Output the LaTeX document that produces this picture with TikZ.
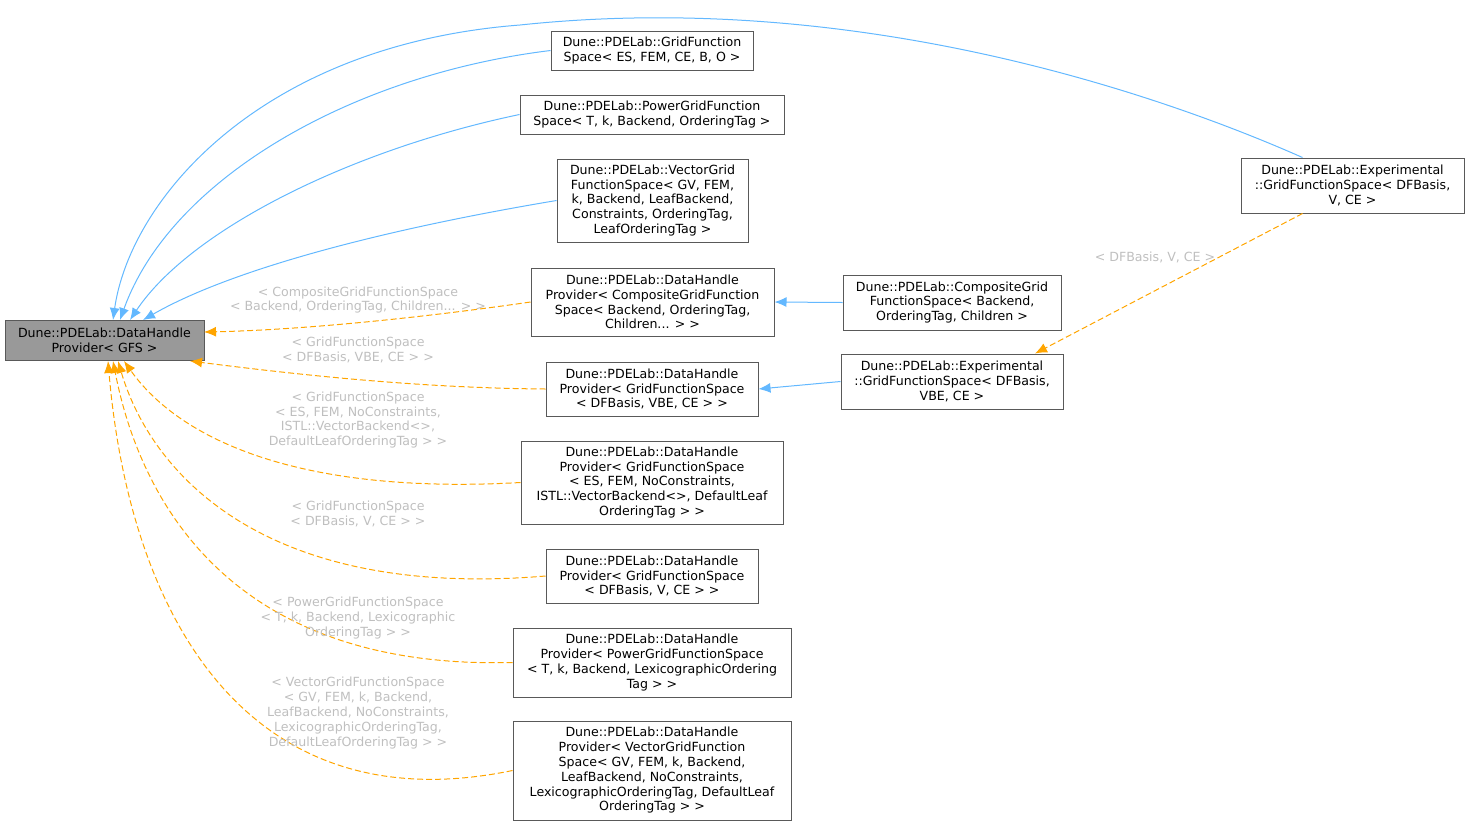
\documentclass[tikz,border=0pt]{standalone}
\usepackage{fontspec}
\setmainfont{DejaVu Sans}
\usetikzlibrary{arrows.meta}
\definecolor{eb}{HTML}{63B8FF}
\definecolor{eo}{HTML}{FFA500}
\definecolor{lb}{HTML}{BFBFBF}
\begin{document}
\begin{tikzpicture}[x=1pt,y=-1pt,line width=1pt,
 box/.style={draw=black!65,fill=white,align=center,inner sep=0pt,font=\fontsize{12.6}{14.8}\selectfont},
 inh/.style={eb,-{Latex[length=12pt,width=10pt]}},
 tmp/.style={eo,dashed,dash pattern=on 6pt off 3pt,-{Latex[length=12pt,width=10pt]}},
 lab/.style={lb,align=center,font=\fontsize{12.6}{14.8}\selectfont}]
\useasboundingbox (0,0) rectangle (1469,825);
\node[box,fill=black!40,minimum width=199pt,minimum height=40pt] (base) at (104.5,340) {Dune::PDELab::DataHandle\\Provider< GFS >};
\node[box,minimum width=202pt,minimum height=39pt] (A) at (652,50.5) {Dune::PDELab::GridFunction\\Space< ES, FEM, CE, B, O >};
\node[box,minimum width=264pt,minimum height=39pt] (B) at (652,114.5) {Dune::PDELab::PowerGridFunction\\Space< T, k, Backend, OrderingTag >};
\node[box,minimum width=191pt,minimum height=83pt] (C) at (652.5,200.5) {Dune::PDELab::VectorGrid\\FunctionSpace< GV, FEM,\\ k, Backend, LeafBackend,\\ Constraints, OrderingTag,\\ LeafOrderingTag >};
\node[box,minimum width=243pt,minimum height=68pt] (D) at (652.5,302) {Dune::PDELab::DataHandle\\Provider< CompositeGridFunction\\Space< Backend, OrderingTag,\\ Children... > >};
\node[box,minimum width=212pt,minimum height=54pt] (E) at (652,389) {Dune::PDELab::DataHandle\\Provider< GridFunctionSpace\\< DFBasis, VBE, CE > >};
\node[box,minimum width=262pt,minimum height=83pt] (F) at (652,482.5) {Dune::PDELab::DataHandle\\Provider< GridFunctionSpace\\< ES, FEM, NoConstraints,\\ ISTL::VectorBackend<>, DefaultLeaf\\OrderingTag > >};
\node[box,minimum width=212pt,minimum height=54pt] (G) at (652,576) {Dune::PDELab::DataHandle\\Provider< GridFunctionSpace\\< DFBasis, V, CE > >};
\node[box,minimum width=278pt,minimum height=69pt] (H) at (652,662.5) {Dune::PDELab::DataHandle\\Provider< PowerGridFunctionSpace\\< T, k, Backend, LexicographicOrdering\\Tag > >};
\node[box,minimum width=278pt,minimum height=99pt] (I) at (652,770.5) {Dune::PDELab::DataHandle\\Provider< VectorGridFunction\\Space< GV, FEM, k, Backend,\\ LeafBackend, NoConstraints,\\ LexicographicOrderingTag, DefaultLeaf\\OrderingTag > >};
\node[box,minimum width=218pt,minimum height=55pt] (J) at (952,302.5) {Dune::PDELab::CompositeGrid\\FunctionSpace< Backend,\\ OrderingTag, Children >};
\node[box,minimum width=222pt,minimum height=55pt] (K) at (952,381.5) {Dune::PDELab::Experimental\\::GridFunctionSpace< DFBasis,\\ VBE, CE >};
\node[box,minimum width=223pt,minimum height=55pt] (L) at (1352.5,185.5) {Dune::PDELab::Experimental\\::GridFunctionSpace< DFBasis,\\ V, CE >};
% inheritance
\draw[inh] ([xshift=-50pt]L.north) .. controls (1150,90) and (850,-10) .. (520,25) .. controls (260,45) and (130,200) .. (113,320);
\draw[inh] (A.west) .. controls (350,75) and (170,180) .. (120,320);
\draw[inh] (B.west) .. controls (350,150) and (190,230) .. (130,320);
\draw[inh] (C.west) .. controls (380,230) and (230,270) .. (143,320);
\draw[inh] (J.west) -- (D.east);
\draw[inh] (K.west) -- (E.east);
% templates
\draw[tmp] ([xshift=-50pt]L.south) -- ([xshift=83pt]K.north);
\node[lab] (lL) at (1155,257) {< DFBasis, V, CE >};
\draw[tmp] (D.west) .. controls (420,318) and (300,330) .. (204,332);
\node[lab] (lD) at (358,300) {< CompositeGridFunctionSpace\\< Backend, OrderingTag, Children... > >};
\draw[tmp] (E.west) .. controls (420,388) and (300,375) .. (190,361);
\node[lab] (lE) at (358,350) {< GridFunctionSpace\\< DFBasis, VBE, CE > >};
\draw[tmp] (F.west) .. controls (300,495) and (180,440) .. (124,361);
\node[lab] (lF) at (358,420) {< GridFunctionSpace\\< ES, FEM, NoConstraints,\\ ISTL::VectorBackend<>,\\ DefaultLeafOrderingTag > >};
\draw[tmp] (G.west) .. controls (260,600) and (150,470) .. (118,361);
\node[lab] (lG) at (358,514) {< GridFunctionSpace\\< DFBasis, V, CE > >};
\draw[tmp] (H.west) .. controls (230,670) and (140,500) .. (113,361);
\node[lab] (lH) at (358,618) {< PowerGridFunctionSpace\\< T, k, Backend, Lexicographic\\OrderingTag > >};
\draw[tmp] (I.west) .. controls (250,825) and (130,620) .. (108,361);
\node[lab] (lI) at (358,713) {< VectorGridFunctionSpace\\< GV, FEM, k, Backend,\\ LeafBackend, NoConstraints,\\ LexicographicOrderingTag,\\ DefaultLeafOrderingTag > >};
\end{tikzpicture}
\end{document}
